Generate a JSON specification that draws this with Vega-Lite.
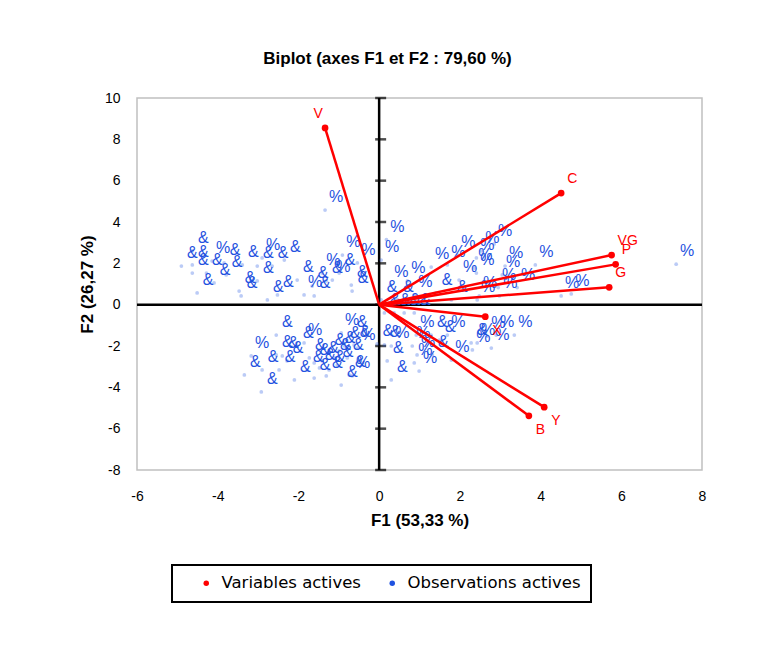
{
  "$schema": "https://vega.github.io/schema/vega-lite/v6.json",
  "autosize": {"type": "none"},
  "padding": {"left": 137, "top": 98, "right": 69, "bottom": 178},
  "width": 565,
  "height": 372,
  "background": "white",
  "title": {"text": "Biplot (axes F1 et F2 : 79,60 %)", "font": "Liberation Sans", "fontSize": 17, "fontWeight": "bold", "color": "#000000", "offset": 23, "dx": -32, "anchor": "middle"},
  "config": {
    "view": {"stroke": "#c0c0c0", "strokeWidth": 1.5},
    "axis": {"grid": false, "domain": false, "ticks": false, "labelFont": "Liberation Sans", "labelFontSize": 14, "labelColor": "#000000", "titleFont": "Liberation Sans", "titleFontSize": 17, "titleFontWeight": "bold", "titleColor": "#000000", "labelFlush": false, "labelOverlap": false},
    "legend": {"strokeWidth": 2}
  },
  "datasets": {
    "ticks": [{"t": -8}, {"t": -6}, {"t": -4}, {"t": -2}, {"t": 0}, {"t": 2}, {"t": 4}, {"t": 6}, {"t": 8}, {"t": 10}],
    "vars": [
      {"F1": -1.34, "F2": 8.55, "name": "V", "pos": "left"},
      {"F1": 4.51, "F2": 5.40, "name": "C", "pos": "up"},
      {"F1": 5.76, "F2": 2.40, "name": "VG", "pos": "up"},
      {"F1": 5.86, "F2": 1.95, "name": "P", "pos": "up"},
      {"F1": 5.70, "F2": 0.84, "name": "G", "pos": "up"},
      {"F1": 2.63, "F2": -0.58, "name": "X", "pos": "down"},
      {"F1": 4.09, "F2": -4.96, "name": "Y", "pos": "down"},
      {"F1": 3.71, "F2": -5.38, "name": "B", "pos": "down"}
    ],
    "obs": [
      {"F1": -4.63, "F2": 2.60, "lab": "&"}, {"F1": -4.90, "F2": 1.87, "lab": "&"}, {"F1": -4.63, "F2": 1.92, "lab": "&"},
      {"F1": -4.63, "F2": 1.53, "lab": "&"}, {"F1": -4.14, "F2": 2.11, "lab": "%"}, {"F1": -3.84, "F2": 2.02, "lab": "&"},
      {"F1": -4.28, "F2": 1.53, "lab": "&"}, {"F1": -4.09, "F2": 1.05, "lab": "&"}, {"F1": -4.51, "F2": 0.57, "lab": "&"},
      {"F1": -3.39, "F2": 1.92, "lab": "&"}, {"F1": -2.90, "F2": 2.26, "lab": "%"}, {"F1": -3.02, "F2": 1.87, "lab": "&"},
      {"F1": -2.35, "F2": 2.16, "lab": "&"}, {"F1": -2.65, "F2": 1.87, "lab": "&"}, {"F1": -3.02, "F2": 1.15, "lab": "&"},
      {"F1": -3.47, "F2": 0.66, "lab": "&"}, {"F1": -3.42, "F2": 0.42, "lab": "&"}, {"F1": -2.77, "F2": 0.23, "lab": "&"},
      {"F1": -2.52, "F2": 0.47, "lab": "&"}, {"F1": -2.03, "F2": 1.19, "lab": "&"}, {"F1": -1.86, "F2": 0.47, "lab": "%"},
      {"F1": -1.66, "F2": 0.90, "lab": "&"}, {"F1": -1.61, "F2": 0.42, "lab": "&"}, {"F1": -1.41, "F2": 1.53, "lab": "%"},
      {"F1": -1.31, "F2": 1.15, "lab": "&"}, {"F1": -1.16, "F2": 1.19, "lab": "%"}, {"F1": -0.99, "F2": 1.53, "lab": "&"},
      {"F1": -0.91, "F2": 2.40, "lab": "%"}, {"F1": -0.54, "F2": 2.02, "lab": "%"}, {"F1": -0.69, "F2": 0.95, "lab": "&"},
      {"F1": -0.67, "F2": 0.66, "lab": "&"}, {"F1": -1.34, "F2": 4.58, "lab": "%"}, {"F1": 0.18, "F2": 3.15, "lab": "%"},
      {"F1": 0.05, "F2": 2.16, "lab": "%"}, {"F1": -3.79, "F2": 1.44, "lab": "&"},
      {"F1": 0.28, "F2": 0.95, "lab": "%"}, {"F1": 0.70, "F2": 1.15, "lab": "%"}, {"F1": 0.87, "F2": 0.47, "lab": "%"},
      {"F1": 0.05, "F2": 0.23, "lab": "&"}, {"F1": 0.45, "F2": 0.23, "lab": "&"}, {"F1": 1.41, "F2": 0.57, "lab": "&"},
      {"F1": 1.79, "F2": 0.23, "lab": "&"}, {"F1": 1.29, "F2": 1.82, "lab": "%"}, {"F1": 1.69, "F2": 1.92, "lab": "%"},
      {"F1": 1.94, "F2": 2.40, "lab": "%"}, {"F1": 1.98, "F2": 1.19, "lab": "%"}, {"F1": 2.36, "F2": 1.77, "lab": "%"},
      {"F1": 2.41, "F2": 1.53, "lab": "%"}, {"F1": 2.53, "F2": 2.60, "lab": "%"}, {"F1": 2.85, "F2": 2.94, "lab": "%"},
      {"F1": 3.12, "F2": 1.87, "lab": "%"}, {"F1": 3.05, "F2": 1.44, "lab": "%"}, {"F1": 3.87, "F2": 1.92, "lab": "%"},
      {"F1": 2.43, "F2": 0.23, "lab": "%"}, {"F1": 2.95, "F2": 0.83, "lab": "%"}, {"F1": 3.42, "F2": 0.83, "lab": "%"},
      {"F1": 4.51, "F2": 0.42, "lab": "%"}, {"F1": 4.76, "F2": 0.52, "lab": "%"}, {"F1": 2.48, "F2": 0.42, "lab": "%"},
      {"F1": 2.98, "F2": 0.42, "lab": "%"}, {"F1": 7.36, "F2": 1.96, "lab": "%"}, {"F1": 2.41, "F2": 2.26, "lab": "%"},
      {"F1": 0.13, "F2": -0.40, "lab": "&"}, {"F1": 0.37, "F2": -0.40, "lab": "&"}, {"F1": 0.62, "F2": -0.40, "lab": "&"},
      {"F1": 0.87, "F2": -0.40, "lab": "&"},
      {"F1": 0.92, "F2": -1.47, "lab": "%"}, {"F1": 1.29, "F2": -1.47, "lab": "&"}, {"F1": 1.49, "F2": -1.71, "lab": "&"},
      {"F1": 1.69, "F2": -1.47, "lab": "%"}, {"F1": 2.28, "F2": -1.85, "lab": "&"}, {"F1": 2.31, "F2": -2.19, "lab": "%"},
      {"F1": 2.43, "F2": -1.85, "lab": "%"}, {"F1": 2.68, "F2": -1.52, "lab": "%"}, {"F1": 2.90, "F2": -1.47, "lab": "%"},
      {"F1": 2.78, "F2": -2.10, "lab": "%"}, {"F1": 3.35, "F2": -1.47, "lab": "%"}, {"F1": 0.13, "F2": -1.95, "lab": "&"},
      {"F1": 0.30, "F2": -2.00, "lab": "%"}, {"F1": 0.20, "F2": -2.72, "lab": "&"}, {"F1": 0.30, "F2": -3.64, "lab": "&"},
      {"F1": 0.82, "F2": -2.00, "lab": "%"}, {"F1": 0.94, "F2": -2.43, "lab": "%"}, {"F1": 0.87, "F2": -2.82, "lab": "%"},
      {"F1": 0.99, "F2": -3.21, "lab": "%"}, {"F1": 1.32, "F2": -2.43, "lab": "&"}, {"F1": 1.79, "F2": -2.68, "lab": "%"},
      {"F1": -0.05, "F2": -1.90, "lab": "&"},
      {"F1": -2.55, "F2": -1.47, "lab": "&"}, {"F1": -2.03, "F2": -2.00, "lab": "&"}, {"F1": -1.86, "F2": -1.85, "lab": "%"},
      {"F1": -3.17, "F2": -2.48, "lab": "%"}, {"F1": -2.55, "F2": -2.43, "lab": "&"}, {"F1": -2.40, "F2": -2.48, "lab": "&"},
      {"F1": -2.28, "F2": -2.72, "lab": "&"}, {"F1": -2.90, "F2": -3.16, "lab": "&"}, {"F1": -2.48, "F2": -3.16, "lab": "&"},
      {"F1": -3.34, "F2": -3.40, "lab": "&"}, {"F1": -2.10, "F2": -3.64, "lab": "&"}, {"F1": -2.92, "F2": -4.22, "lab": "&"},
      {"F1": -1.78, "F2": -3.16, "lab": "&"}, {"F1": -1.61, "F2": -3.55, "lab": "&"}, {"F1": -1.31, "F2": -3.45, "lab": "&"},
      {"F1": -1.48, "F2": -3.06, "lab": "&"}, {"F1": -0.94, "F2": -1.37, "lab": "%"}, {"F1": -0.69, "F2": -1.47, "lab": "&"},
      {"F1": -0.62, "F2": -1.95, "lab": "&"}, {"F1": -0.94, "F2": -3.89, "lab": "&"}, {"F1": -0.74, "F2": -3.40, "lab": "&"},
      {"F1": -0.67, "F2": -3.45, "lab": "%"}, {"F1": -1.24, "F2": -2.34, "lab": "&"}, {"F1": -1.11, "F2": -2.58, "lab": "&"},
      {"F1": -0.99, "F2": -2.24, "lab": "&"}, {"F1": -0.86, "F2": -2.00, "lab": "&"}, {"F1": -1.04, "F2": -2.92, "lab": "&"},
      {"F1": -0.79, "F2": -2.58, "lab": "&"}, {"F1": -1.41, "F2": -2.72, "lab": "&"}, {"F1": -1.61, "F2": -2.82, "lab": "&"},
      {"F1": -1.24, "F2": -3.16, "lab": "&"}, {"F1": -1.73, "F2": -2.58, "lab": "&"}, {"F1": -0.54, "F2": -2.10, "lab": "%"}
    ]
  },
  "layer": [
    {
      "data": {"values": [{}]},
      "mark": {"type": "rule", "color": "#000000", "strokeWidth": 2.5},
      "encoding": {"x": {"datum": 0, "type": "quantitative", "scale": {"domain": [-6, 8], "nice": false, "zero": false},
        "axis": {"title": "F1 (53,33 %)", "values": [-6, -4, -2, 0, 2, 4, 6, 8], "labelPadding": 19, "titlePadding": 9, "labelExpr": "datum.value + ''"}}}
    },
    {
      "data": {"values": [{}]},
      "mark": {"type": "rule", "color": "#000000", "strokeWidth": 2.5},
      "encoding": {"y": {"datum": 0, "type": "quantitative", "scale": {"domain": [-8, 10], "nice": false, "zero": false},
        "axis": {"title": "F2 (26,27 %)", "values": [-8, -6, -4, -2, 0, 2, 4, 6, 8, 10], "labelPadding": 17, "titlePadding": 8, "labelExpr": "datum.value + ''"}}}
    },
    {
      "data": {"name": "ticks"},
      "mark": {"type": "tick", "orient": "horizontal", "color": "#000000", "size": 11, "thickness": 2.5, "xOffset": 1.5},
      "encoding": {"x": {"datum": 0, "type": "quantitative"}, "y": {"field": "t", "type": "quantitative"}}
    },
    {
      "data": {"name": "obs"},
      "mark": {"type": "circle", "size": 14, "opacity": 0.3},
      "encoding": {
        "x": {"field": "F1", "type": "quantitative"},
        "y": {"field": "F2", "type": "quantitative"},
        "color": {"datum": "Observations actives", "type": "nominal",
          "scale": {"domain": ["Variables actives", "Observations actives"], "range": ["#ff0000", "#1f52e0"]},
          "legend": {"title": null, "orient": "none", "legendX": 35, "legendY": 467, "direction": "horizontal", "strokeColor": "#000000", "padding": 10, "symbolType": "circle", "symbolSize": 30, "symbolOpacity": 1, "labelFont": "DejaVu Sans", "labelFontSize": 16.5, "labelColor": "#000000", "labelLimit": 400, "symbolOffset": 16, "columnPadding": 7, "gridAlign": "none", "labelOffset": 7}}
      }
    },
    {
      "data": {"name": "obs"},
      "mark": {"type": "text", "font": "Liberation Sans", "fontSize": 16, "color": "#1f52e0", "dx": 11, "dy": -13, "align": "center", "baseline": "middle"},
      "encoding": {
        "x": {"field": "F1", "type": "quantitative"},
        "y": {"field": "F2", "type": "quantitative"},
        "text": {"field": "lab"}
      }
    },
    {
      "data": {"name": "vars"},
      "mark": {"type": "rule", "color": "#ff0000", "strokeWidth": 2.5},
      "encoding": {
        "x": {"field": "F1", "type": "quantitative"},
        "y": {"field": "F2", "type": "quantitative"},
        "x2": {"datum": 0},
        "y2": {"datum": 0}
      }
    },
    {
      "data": {"name": "vars"},
      "mark": {"type": "circle", "size": 45, "opacity": 1},
      "encoding": {
        "x": {"field": "F1", "type": "quantitative"},
        "y": {"field": "F2", "type": "quantitative"},
        "color": {"datum": "Variables actives", "type": "nominal"}
      }
    },
    {
      "data": {"name": "vars"},
      "transform": [{"filter": "datum.pos === 'up'"}],
      "mark": {"type": "text", "font": "Liberation Sans", "fontSize": 14, "color": "#ff0000", "dx": 6, "dy": -14, "align": "left", "baseline": "middle"},
      "encoding": {"x": {"field": "F1", "type": "quantitative"}, "y": {"field": "F2", "type": "quantitative"}, "text": {"field": "name"}}
    },
    {
      "data": {"name": "vars"},
      "transform": [{"filter": "datum.pos === 'down'"}],
      "mark": {"type": "text", "font": "Liberation Sans", "fontSize": 14, "color": "#ff0000", "dx": 7, "dy": 14, "align": "left", "baseline": "middle"},
      "encoding": {"x": {"field": "F1", "type": "quantitative"}, "y": {"field": "F2", "type": "quantitative"}, "text": {"field": "name"}}
    },
    {
      "data": {"name": "vars"},
      "transform": [{"filter": "datum.pos === 'left'"}],
      "mark": {"type": "text", "font": "Liberation Sans", "fontSize": 14, "color": "#ff0000", "dx": -7, "dy": -14, "align": "center", "baseline": "middle"},
      "encoding": {"x": {"field": "F1", "type": "quantitative"}, "y": {"field": "F2", "type": "quantitative"}, "text": {"field": "name"}}
    }
  ]
}
